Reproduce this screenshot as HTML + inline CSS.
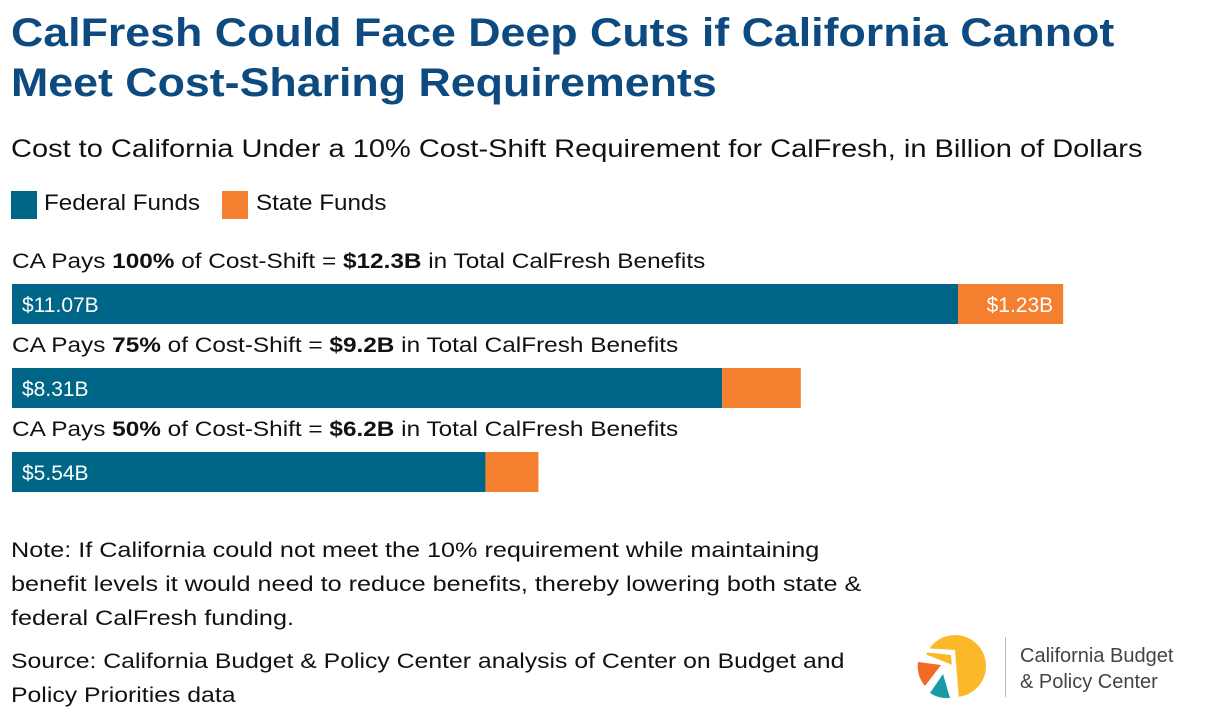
<!DOCTYPE html>
<html><head><meta charset="utf-8"><style>
body{margin:0;width:1220px;height:724px;background:#fff;font-family:"Liberation Sans",sans-serif;position:relative;overflow:hidden;color:#111}
.t{position:absolute;white-space:nowrap;transform-origin:0 0}
h1{position:absolute;left:11px;top:8px;margin:0;font-size:40px;line-height:50px;color:#0c4a7f;font-weight:bold;transform:scaleX(1.118);transform-origin:0 0;white-space:nowrap}
</style></head><body>
<h1>CalFresh Could Face Deep Cuts if California Cannot<br>Meet Cost-Sharing Requirements</h1>
<div class="t" style="left:11px;top:135px;font-size:25px;transform:scaleX(1.16)">Cost to California Under a 10% Cost-Shift Requirement for CalFresh, in Billion of Dollars</div>
<div style="position:absolute;left:11px;top:191px;width:26px;height:28px;background:#006687"></div>
<div class="t" style="left:44px;top:190px;font-size:22px;transform:scaleX(1.1)">Federal Funds</div>
<div style="position:absolute;left:222px;top:191px;width:26px;height:28px;background:#f47f2f"></div>
<div class="t" style="left:256px;top:190px;font-size:22px;transform:scaleX(1.1)">State Funds</div>
<svg id="chart" width="1220" height="724" style="position:absolute;left:0;top:0"></svg>
<div class="t" style="left:11px;top:534px;font-size:21px;line-height:34px;transform:scaleX(1.2)">Note: If California could not meet the 10% requirement while maintaining<br>benefit levels it would need to reduce benefits, thereby lowering both state &amp;<br>federal CalFresh funding.</div>
<div class="t" style="left:11px;top:645px;font-size:21px;line-height:34px;transform:scaleX(1.18)">Source: California Budget &amp; Policy Center analysis of Center on Budget and<br>Policy Priorities data</div>
<svg style="position:absolute;left:915px;top:628px" width="90" height="80">
<circle cx="40" cy="38" r="31" fill="#fbb829"/>
<path d="M40 38 L0 22 L0 80 L40 80 Z" fill="#fff"/>
<path d="M3 34 L26 37 L10 58 A31 31 0 0 1 3 34 Z" fill="#f26a25"/>
<path d="M28 46 L35 70 A31 31 0 0 1 15 65 Z" fill="#1a9aa8"/>
<path d="M8 24 L36 27 L40 72 L44 72 L40 22 L8 20 Z" fill="#fff"/>
</svg>
<div style="position:absolute;left:1005px;top:637px;width:1px;height:60px;background:#bbb"></div>
<div class="t" style="left:1020px;top:643px;font-size:20px;line-height:26px;color:#444">California Budget<br>&amp; Policy Center</div>
<script>
const categories=["100%","75%","50%"];
const totals=["$12.3B","$9.2B","$6.2B"];
const federal=[11.07,8.31,5.54];
const state=[1.23,0.92,0.62];
const stateLabels=["$1.23B","",""];
const svg=document.getElementById('chart');
const NS="http://www.w3.org/2000/svg";
const x0=12,scale=85.46;
const xs=v=>x0+v*scale;
const rowTop=i=>243+i*84;
function mk(tag,attrs,parent){const e=document.createElementNS(NS,tag);for(const k in attrs)e.setAttribute(k,attrs[k]);(parent||svg).appendChild(e);return e;}
categories.forEach((c,i)=>{
 const y=rowTop(i);
 const g=mk('g',{transform:'translate(12,0) scale(1.16,1) translate(-12,0)'});
 const lab=mk('text',{x:12,y:y+25,'font-size':21,fill:'#111'},g);
 
 
 lab.innerHTML='CA Pays <tspan font-weight="bold">'+c+'</tspan> of Cost-Shift = <tspan font-weight="bold">'+totals[i]+'</tspan> in Total CalFresh Benefits';
 const fb=mk('rect',{x:xs(0),y:y+41,width:xs(federal[i])-xs(0),height:40,fill:'#006687'});
 
 
 const sb=mk('rect',{x:xs(federal[i]),y:y+41,width:xs(federal[i]+state[i])-xs(federal[i]),height:40,fill:'#f47f2f'});
 
 
 const ft=mk('text',{x:xs(0)+10,y:y+69,'font-size':21,fill:'#fff'});
 
 
 ft.textContent='$'+federal[i].toFixed(2)+'B';
 if(stateLabels[i]){
  const st=mk('text',{x:xs(federal[i]+state[i])-10,y:y+69,'font-size':21,fill:'#fff','text-anchor':'end'});
  
  
  st.textContent=stateLabels[i];
 }
});
</script>
</body></html>
